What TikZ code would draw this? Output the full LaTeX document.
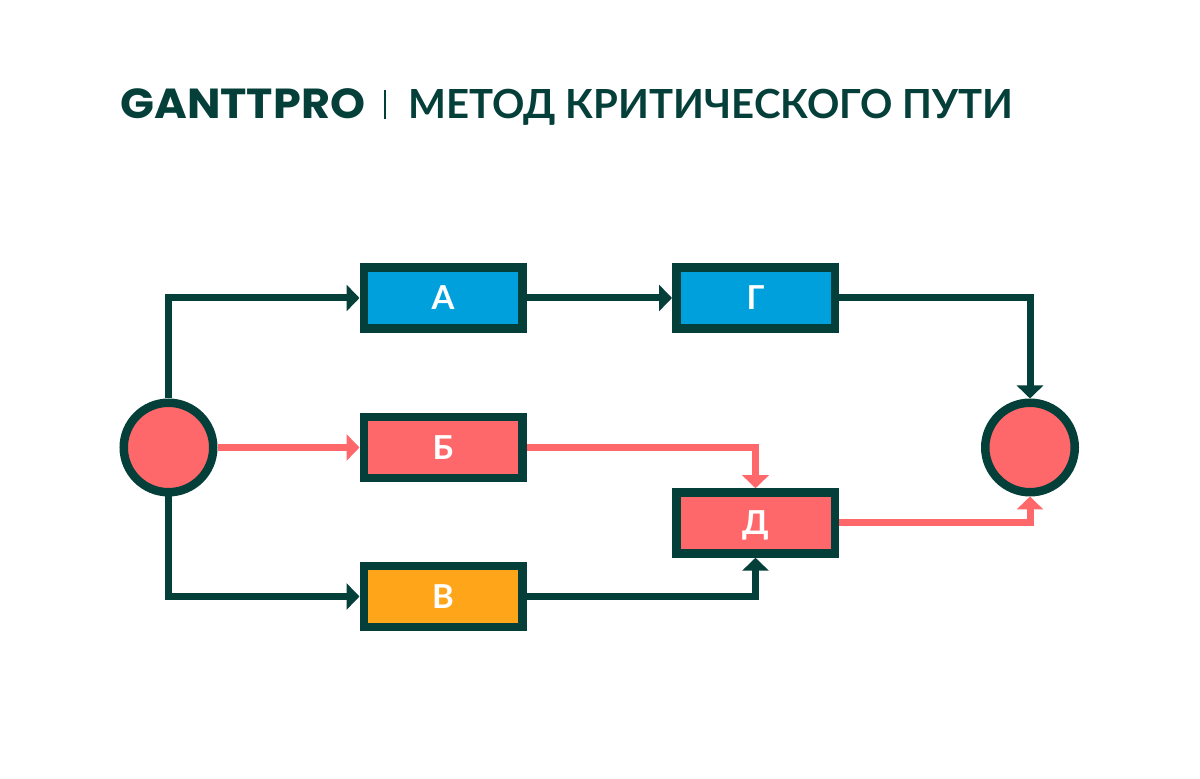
\documentclass[tikz,border=0pt]{standalone}
\usepackage{fontspec}
\usepackage{graphicx}
\usetikzlibrary{arrows.meta}
\setmainfont{Lato}
\newfontfamily\logofont{Poppins}
\definecolor{dk}{HTML}{053F3A}
\definecolor{cr}{HTML}{FF686A}
\definecolor{bl}{HTML}{00A0DC}
\definecolor{og}{HTML}{FFA51A}
\tikzset{
  taskbox/.style={draw=dk,line width=4.25pt,minimum width=79.25pt,minimum height=30.5pt,inner sep=0pt,text=white,text height=11.9pt,text depth=0pt,font=\bfseries\fontsize{16.5}{18}\selectfont},
  endpoint/.style={circle,draw=dk,fill=cr,line width=4.25pt,minimum size=44.75pt,inner sep=0pt},
  link/.style={line width=3.5pt,miter limit=10,-{Triangle[length=6.5pt,width=13pt]}},
  dklink/.style={link,draw=dk},
  crlink/.style={link,draw=cr},
}
\begin{document}
\begin{tikzpicture}[x=0.5pt,y=-0.5pt]
\useasboundingbox (0,0) rectangle (1200,779);
\node[anchor=base west,inner sep=0pt,text=dk] (logo) at (120,119) {\scalebox{1.06}[1]{\logofont\bfseries\fontsize{21}{24}\selectfont GANTTPRO}};
\node[anchor=base west,inner sep=0pt,text=dk] (title) at (408,119) {\bfseries\fontsize{20.05}{24}\selectfont МЕТОД КРИТИЧЕСКОГО ПУТИ};
\draw[dk,line width=1.2pt] (385,90) -- (385,119);
\node[endpoint] (s) at (168.5,447.5) {};
\node[endpoint] (e) at (1030,447.5) {};
\node[taskbox,fill=bl] (a) at (443,298) {А};
\node[taskbox,fill=bl] (g) at (755.5,298) {Г};
\node[taskbox,fill=cr] (b) at (443,447.5) {Б};
\node[taskbox,fill=og] (v) at (443,596.5) {В};
\node[taskbox,fill=cr] (d) at (755.5,523) {Д};
\draw[dklink] (s.north) |- (a.west);
\draw[dklink] (s.south) |- (v.west);
\draw[crlink] (s.east) -- (b.west);
\draw[dklink] (a.east) -- (g.west);
\draw[dklink] (g.east) -| (e.north);
\draw[crlink] (b.east) -| (d.north);
\draw[dklink] (v.east) -| (d.south);
\draw[crlink] (d.east) -| (e.south);
\end{tikzpicture}
\end{document}
